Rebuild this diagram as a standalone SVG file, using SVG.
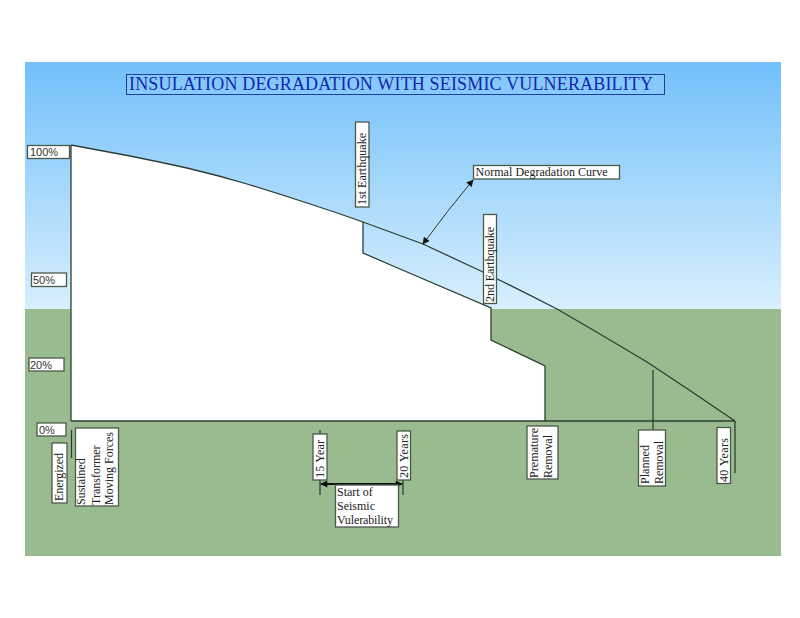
<svg xmlns="http://www.w3.org/2000/svg" width="800" height="618" viewBox="0 0 800 618">
<defs>
<linearGradient id="sky" x1="0" y1="0" x2="0" y2="1"><stop offset="0" stop-color="#72c0fb"/><stop offset="1" stop-color="#d8effd"/></linearGradient>
<marker id="ah" viewBox="0 0 10 10" refX="9" refY="5" markerWidth="9" markerHeight="7" markerUnits="userSpaceOnUse" orient="auto-start-reverse"><path d="M0 0L10 5L0 10Z" fill="#111"/></marker>
</defs>
<style>
text{font-family:"Liberation Serif","Times New Roman",serif;font-size:12px;fill:#222}
.pct{font-family:"Liberation Sans",Arial,sans-serif;font-size:11px;fill:#333}
.box{fill:#fff;stroke:#4a5a4a;stroke-width:1.3}
.ln{fill:none;stroke:#2c3e33;stroke-width:1.3}
</style>
<rect width="800" height="618" fill="#fff"/>
<rect x="25" y="62" width="756" height="247" fill="url(#sky)"/>
<rect x="25" y="309" width="756" height="247" fill="#9aba8f"/>
<path d="M71 145L130 156Q160 162 187 168Q217 175 247 184Q277 193 307 203Q335 212 363 222V253L400 269L491 308V340L545 366V421H71Z" fill="#fff"/>
<g id="connectors">
<path class="ln" d="M71 145V421"/>
<path class="ln" d="M71 145L130 156Q160 162 187 168Q217 175 247 184Q277 193 307 203Q335 212 363 222Q393 233 423 244Q453 258 483 272Q520 290 557 309Q602 335 647 362Q691 391 735 421"/>
<path class="ln" d="M363 222V253L400 269L491 308V340L545 366V421"/>
<path class="ln" d="M71 421H735"/>
<path class="ln" d="M735 421V473"/>
<path class="ln" d="M653 370V430"/>
<path class="ln" d="M71.500 430V458" stroke-width="1.500"/>
<path class="ln" d="M320 430V495"/>
<path class="ln" d="M403 430V495"/>
<path d="M321 484H402" fill="none" stroke="#111" stroke-width="2.200" marker-start="url(#ah)" marker-end="url(#ah)"/>
<path d="M423 244Q447 211 473 180" fill="none" stroke="#333" stroke-width="1" marker-start="url(#ah)" marker-end="url(#ah)"/>
</g>
<g id="title"><rect x="126.500" y="74.500" width="538" height="20" fill="#8fcdfb" fill-opacity=".5" stroke="#1f3f9a" stroke-width="1"/><text x="129" y="90" style="font-size:18px;fill:#1426ae" textLength="524" lengthAdjust="spacing">INSULATION DEGRADATION WITH SEISMIC VULNERABILITY</text></g>
<g id="pct100"><rect class="box" x="27.500" y="145.500" width="42" height="13"/><text class="pct" x="30" y="156">100%</text></g>
<g id="pct50"><rect class="box" x="31.500" y="273" width="35" height="13.500"/><text class="pct" x="33" y="283.500">50%</text></g>
<g id="pct20"><rect class="box" x="29" y="358" width="35" height="13"/><text class="pct" x="30" y="368.500">20%</text></g>
<g id="pct0"><rect class="box" x="37" y="423" width="29" height="13"/><text class="pct" x="39" y="433.500">0%</text></g>
<g id="eq1"><rect class="box" x="355.500" y="122" width="13.500" height="85"/><text transform="translate(366 205) rotate(-90)" textLength="72">1st Earthquake</text></g>
<g id="eq2"><rect class="box" x="483.500" y="214.500" width="13" height="89"/><text transform="translate(494 302) rotate(-90)" textLength="75">2nd Earthquake</text></g>
<g id="normal"><rect class="box" x="473.500" y="165.500" width="146" height="13.500"/><text x="475.500" y="176" textLength="132">Normal Degradation Curve</text></g>
<g id="energized"><rect class="box" x="52" y="443" width="15" height="60"/><text transform="translate(63 501) rotate(-90)" textLength="48">Energized</text></g>
<g id="moving"><rect class="box" x="75.500" y="428" width="43" height="78"/><text transform="rotate(-90 85 505)" x="85" y="505">Sustained</text><text transform="rotate(-90 99.500 505)" x="99.500" y="505">Transformer</text><text transform="rotate(-90 113 505)" x="113" y="505">Moving Forces</text></g>
<g id="y15"><rect class="box" x="313" y="434" width="14" height="46"/><text transform="translate(324 478) rotate(-90)" textLength="38">15 Year</text></g>
<g id="y20"><rect class="box" x="397" y="431" width="13.500" height="49"/><text transform="translate(408 478) rotate(-90)" textLength="44">20 Years</text></g>
<g id="start"><rect class="box" x="335.500" y="485" width="63" height="42"/><text x="337" y="496">Start of</text><text x="337" y="510">Seismic</text><text x="337" y="524" textLength="56">Vulerability</text></g>
<g id="premature"><rect class="box" x="527" y="426" width="31" height="53"/><text transform="rotate(-90 537.500 478)" x="537.500" y="478" textLength="50">Premature</text><text transform="rotate(-90 552 478)" x="552" y="478" textLength="43">Removal</text></g>
<g id="planned"><rect class="box" x="638.500" y="430" width="27" height="56"/><text transform="rotate(-90 649 484)" x="649" y="484" textLength="39">Planned</text><text transform="rotate(-90 663 484)" x="663" y="484" textLength="43">Removal</text></g>
<g id="y40"><rect class="box" x="717" y="427.500" width="13.500" height="56"/><text transform="translate(728 482) rotate(-90)" textLength="44">40 Years</text></g>
</svg>
